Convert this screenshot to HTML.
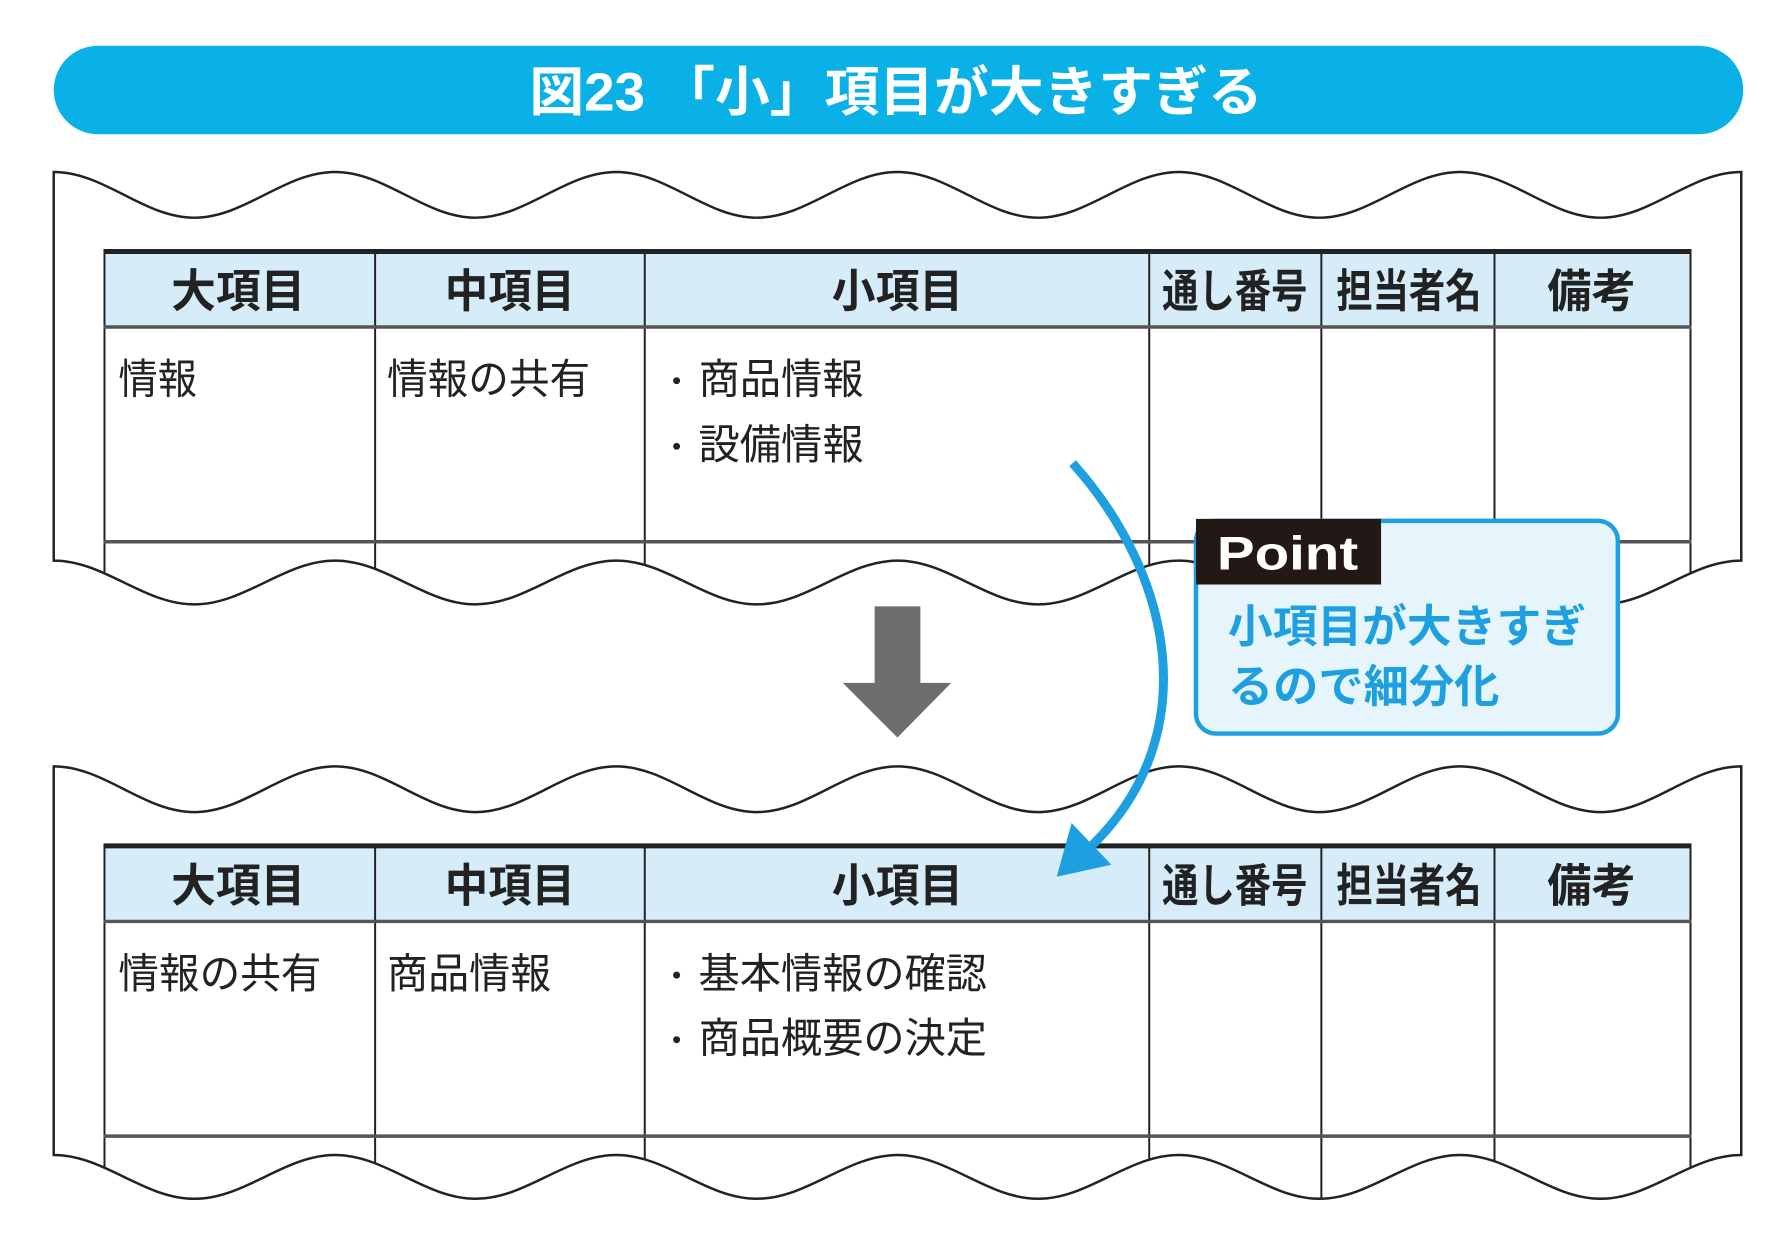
<!DOCTYPE html>
<html><head><meta charset="utf-8"><style>
html,body{margin:0;padding:0;background:#fff;}
svg{display:block;}
text{font-family:"Liberation Sans","Noto Sans CJK JP",sans-serif;}
</style></head><body>
<svg width="1786" height="1234" viewBox="0 0 1786 1234" xmlns="http://www.w3.org/2000/svg">
<defs>
<path id="paper" d="M54,173 L54,564 C105,564 144,608 195.3,608 S285.7,564 336.7,564 S427,608 478,608 S568.3,564 619.3,564 S709.7,608 760.7,608 S851,564 902,564 S992.3,608 1043.3,608 S1133.7,564 1184.7,564 S1275,608 1326,608 S1416.3,564 1467.3,564 S1557.7,608 1608.7,608 S1699,564 1750,564 L1750,173 C1699,173 1659.7,219 1608.7,219 S1518.3,173 1467.3,173 S1377,219 1326,219 S1235.7,173 1184.7,173 S1094.3,219 1043.3,219 S953,173 902,173 S811.7,219 760.7,219 S670.3,173 619.3,173 S529,219 478,219 S387.7,173 336.7,173 S246.3,219 195.3,219 S105,173 54,173 Z"/>
<clipPath id="pc"><use href="#paper"/></clipPath>
<g id="sheet">
<use href="#paper" fill="#fff"/>
<g clip-path="url(#pc)">
<rect x="105" y="253" width="1594" height="76" fill="#d6edf9"/>
<g stroke="#222" stroke-width="2" fill="none">
<line x1="105" y1="253" x2="105" y2="640"/>
<line x1="1699" y1="253" x2="1699" y2="640"/>
<line x1="377" y1="253" x2="377" y2="640"/>
<line x1="648" y1="253" x2="648" y2="640"/>
<line x1="1155" y1="253" x2="1155" y2="640"/>
<line x1="1328" y1="253" x2="1328" y2="640"/>
<line x1="1502" y1="253" x2="1502" y2="640"/>
</g>
<line x1="104" y1="253" x2="1700" y2="253" stroke="#222" stroke-width="5"/>
<line x1="104" y1="329" x2="1700" y2="329" stroke="#555" stroke-width="3.5"/>
<line x1="104" y1="545" x2="1700" y2="545" stroke="#555" stroke-width="3.5"/>
</g>
<use href="#paper" fill="none" stroke="#222" stroke-width="2.5"/>
<g font-size="46" font-weight="bold" fill="#222">
<text x="172" y="309" textLength="135" lengthAdjust="spacingAndGlyphs">大項目</text>
<text x="447" y="309" textLength="131" lengthAdjust="spacingAndGlyphs">中項目</text>
<text x="836" y="309" textLength="132" lengthAdjust="spacingAndGlyphs">小項目</text>
<text x="1168" y="309" textLength="146" lengthAdjust="spacingAndGlyphs">通し番号</text>
<text x="1343" y="309" textLength="146" lengthAdjust="spacingAndGlyphs">担当者名</text>
<text x="1555" y="309" textLength="89" lengthAdjust="spacingAndGlyphs">備考</text>
</g>
</g>
</defs>

<g transform="scale(0.995,0.994)">
<rect x="54" y="46" width="1698" height="89" rx="44.5" fill="#0ab1e6"/>
<text x="532" y="111" font-size="54" font-weight="bold" fill="#fff" textLength="737" lengthAdjust="spacingAndGlyphs">図23 「小」項目が大きすぎる</text>

<use href="#sheet"/>
<g font-size="42" fill="#222">
<text x="119" y="396" textLength="79" lengthAdjust="spacingAndGlyphs">情報</text>
<text x="389" y="396" textLength="204" lengthAdjust="spacingAndGlyphs">情報の共有</text>
<circle cx="680" cy="383" r="3.5" fill="#222"/>
<text x="702" y="396" textLength="166" lengthAdjust="spacingAndGlyphs">商品情報</text>
<circle cx="680" cy="449" r="3.5" fill="#222"/>
<text x="702" y="462" textLength="166" lengthAdjust="spacingAndGlyphs">設備情報</text>
</g>

<g transform="translate(0,598)"><use href="#sheet"/></g>
<g font-size="42" fill="#222">
<text x="119" y="994" textLength="204" lengthAdjust="spacingAndGlyphs">情報の共有</text>
<text x="389" y="994" textLength="165" lengthAdjust="spacingAndGlyphs">商品情報</text>
<circle cx="680" cy="981" r="3.5" fill="#222"/>
<text x="702" y="994" textLength="290" lengthAdjust="spacingAndGlyphs">基本情報の確認</text>
<circle cx="680" cy="1046" r="3.5" fill="#222"/>
<text x="702" y="1059" textLength="290" lengthAdjust="spacingAndGlyphs">商品概要の決定</text>
</g>

<rect x="879" y="610" width="46" height="78" fill="#6e6e6e"/>
<polygon points="847,687 956,687 902,742" fill="#6e6e6e"/>

<rect x="1202" y="524" width="424" height="214" rx="20" fill="#e6f4fc" stroke="#1ea0e0" stroke-width="4.5"/>
<path d="M1202,588 L1202,522 L1388,522 L1388,588 Z" fill="#231815"/>
<text x="1223" y="573" font-size="48" font-weight="bold" fill="#fff" textLength="142" lengthAdjust="spacingAndGlyphs">Point</text>
<g font-size="45" font-weight="bold" fill="#1ea0e0">
<text x="1234" y="646" textLength="360" lengthAdjust="spacingAndGlyphs">小項目が大きすぎ</text>
<text x="1234" y="706" textLength="273" lengthAdjust="spacingAndGlyphs">るので細分化</text>
</g>

<path d="M1078,466 C1180,580 1210,740 1098,850" fill="none" stroke="#1ea0e0" stroke-width="9"/>
<polygon points="1062,882 1117,870 1077,828" fill="#1ea0e0"/>
</g>
</svg>
</body></html>
